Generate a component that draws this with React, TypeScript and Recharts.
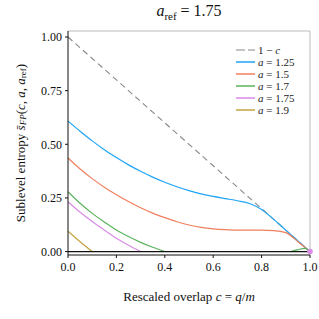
import React from "react";
import {
  ComposedChart,
  Line,
  Scatter,
  XAxis,
  YAxis,
  ReferenceLine,
} from "recharts";

const cGrid = [0, 0.05, 0.1, 0.15, 0.2, 0.25, 0.3, 0.35, 0.4, 0.45, 0.5, 0.55, 0.6, 0.65, 0.7, 0.75, 0.8, 0.85, 0.9, 0.95, 1];

const bound = [1, 0.95, 0.9, 0.85, 0.8, 0.75, 0.7, 0.65, 0.6, 0.55, 0.5, 0.45, 0.4, 0.35, 0.3, 0.25, 0.2, 0.15, 0.1, 0.05, 0];
const a125 = [0.608, 0.561, 0.516, 0.475, 0.438, 0.404, 0.374, 0.347, 0.323, 0.302, 0.284, 0.269, 0.257, 0.247, 0.237, 0.224, 0.196, 0.15, 0.1, 0.05, 0];
const a15 = [0.436, 0.385, 0.34, 0.3, 0.265, 0.233, 0.204, 0.179, 0.158, 0.139, 0.124, 0.113, 0.106, 0.102, 0.1, 0.1, 0.1, 0.098, 0.088, 0.046, 0];
const a17 = [0.279, 0.225, 0.178, 0.138, 0.1, 0.07, 0.043, 0.02, 0, null, null, null, null, null, null, null, null, null, null, null, null];
const a175 = [0.232, 0.183, 0.14, 0.1, 0.062, 0.029, 0, null, null, null, null, null, null, null, null, null, null, null, null, null, null];
const a19 = [0.095, 0.046, 0, null, null, null, null, null, null, null, null, null, null, null, null, null, null, null, null, null, null];

// small bump of a = 1.7 close to c = 1
const a17TailC = [0.92, 0.95, 0.98, 1];
const a17TailS = [0, 0.009, 0.015, 0];

// a = a_ref point at c = 1
const refPointC = [1];
const refPointS = [0];

const xTicks = [0, 0.2, 0.4, 0.6, 0.8, 1];
const yTicks = [0, 0.25, 0.5, 0.75, 1];

const data = cGrid.map((c, i) => ({
  c,
  bound: bound[i],
  a125: a125[i],
  a15: a15[i],
  a17: a17[i],
  a175: a175[i],
  a19: a19[i],
}));
const tailData = a17TailC.map((c, i) => ({ c, a17: a17TailS[i] }));
const refData = refPointC.map((c, i) => ({ c, s: refPointS[i] }));

const FONT = "'Liberation Serif', 'DejaVu Serif', serif";

const series = [
  { key: "a125", value: "1.25", color: "#1ea5f5" },
  { key: "a15", value: "1.5", color: "#f07f5e" },
  { key: "a17", value: "1.7", color: "#5cb35f" },
  { key: "a175", value: "1.75", color: "#d98be6" },
  { key: "a19", value: "1.9", color: "#c3a342" },
];

function LegendBox() {
  const row: React.CSSProperties = { display: "flex", alignItems: "center", height: 12, whiteSpace: "nowrap" };
  return (
    <div
      style={{
        position: "absolute",
        left: 236,
        top: 44,
        fontFamily: FONT,
        fontSize: 11,
        color: "#222",
        lineHeight: "11px",
      }}
    >
      <div style={row}>
        <svg width={20} height={4} style={{ marginRight: 2 }}>
          <line x1={0} y1={2} x2={19} y2={2} stroke="#888" strokeWidth={1.2} strokeDasharray="9 3" />
        </svg>
        <span>1 − <i>c</i></span>
      </div>
      {series.map((s) => (
        <div key={s.key} style={row}>
          <svg width={20} height={4} style={{ marginRight: 2 }}>
            <line x1={0} y1={2} x2={19} y2={2} stroke={s.color} strokeWidth={1.5} />
          </svg>
          <span>
            <i>a</i> = {s.value}
          </span>
        </div>
      ))}
    </div>
  );
}

function YLabel() {
  const cx = 20;
  const cy = 143;
  return (
    <text
      x={cx}
      y={cy}
      transform={`rotate(-90, ${cx}, ${cy})`}
      textAnchor="middle"
      dominantBaseline="central"
      fontFamily={FONT}
      fontSize={13}
      fill="#111"
    >
      Sublevel entropy{" "}
      <tspan fontStyle="italic">s̄</tspan>
      <tspan fontStyle="italic" fontSize={9} dy={3}>FP</tspan>
      <tspan dy={-3}>(</tspan>
      <tspan fontStyle="italic">c</tspan>
      <tspan>, </tspan>
      <tspan fontStyle="italic">a</tspan>
      <tspan>, </tspan>
      <tspan fontStyle="italic">a</tspan>
      <tspan fontSize={9} dy={3}>ref</tspan>
      <tspan dy={-3}>)</tspan>
    </text>
  );
}

function XLabel() {
  return (
    <text x={189} y={301} textAnchor="middle" fontFamily={FONT} fontSize={13} fill="#111">
      Rescaled overlap <tspan fontStyle="italic">c</tspan> = <tspan fontStyle="italic">q</tspan>/<tspan fontStyle="italic">m</tspan>
    </text>
  );
}

const RefDot = (props: any) => <circle cx={props.cx} cy={props.cy} r={2.8} fill="#d98be6" />;

export default function App() {
  return (
    <div style={{ position: "absolute", left: 0, top: 0, width: 319, height: 319, background: "#fff" }}>
      <div
        style={{
          position: "absolute",
          left: 68,
          top: 2,
          width: 242,
          textAlign: "center",
          fontFamily: FONT,
          fontSize: 16,
          color: "#111",
        }}
      >
        <i>a</i>
        <sub style={{ fontSize: 11 }}>ref</sub> = 1.75
      </div>
      <ComposedChart
        width={319}
        height={319}
        data={data}
        margin={{ top: 31, right: 9, bottom: 0, left: 0 }}
        style={{ fontFamily: FONT }}
      >
        <XAxis
          dataKey="c"
          type="number"
          domain={[0, 1]}
          ticks={xTicks}
          tickFormatter={(v: number) => v.toFixed(1)}
          height={64}
          tickSize={3}
          tickMargin={4}
          stroke="#111"
          tick={{ fill: "#111", fontSize: 12, fontFamily: FONT }}
          label={<XLabel />}
          allowDuplicatedCategory={false}
        />
        <YAxis
          type="number"
          domain={[-0.016, 1.028]}
          ticks={yTicks}
          tickFormatter={(v: number) => v.toFixed(2)}
          width={68}
          tickSize={3}
          tickMargin={3}
          stroke="#111"
          tick={{ fill: "#111", fontSize: 12, fontFamily: FONT }}
          label={<YLabel />}
        />
        <ReferenceLine y={1.028} stroke="#bbb" strokeWidth={1} />
        <ReferenceLine x={1} stroke="#bbb" strokeWidth={1} />
        <Line
          dataKey="bound"
          stroke="#888"
          strokeWidth={1.1}
          strokeDasharray="6 4"
          dot={false}
          isAnimationActive={false}
          type="linear"
        />
        {series.map((s) => (
          <Line
            key={s.key}
            dataKey={s.key}
            stroke={s.color}
            strokeWidth={1.2}
            dot={false}
            isAnimationActive={false}
            type="monotone"
            connectNulls={false}
          />
        ))}
        <Line
          data={tailData}
          dataKey="a17"
          stroke="#5cb35f"
          strokeWidth={1.2}
          dot={false}
          isAnimationActive={false}
          type="monotone"
        />
        <ReferenceLine y={0} stroke="#111" strokeWidth={1.2} />
        <Scatter data={refData} dataKey="s" shape={RefDot} isAnimationActive={false} />
      </ComposedChart>
      <LegendBox />
    </div>
  );
}
